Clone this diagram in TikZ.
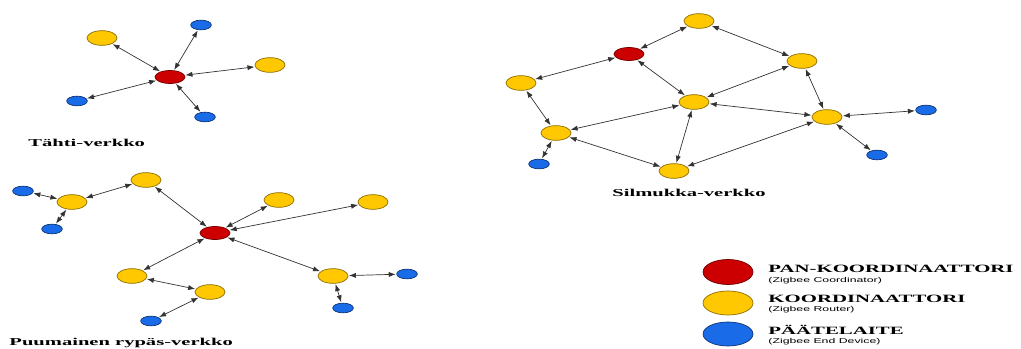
\documentclass[tikz,border=0pt]{standalone}
\usepackage{fontspec}
\setmainfont{Liberation Serif}
\setsansfont{Liberation Sans}
\usetikzlibrary{shapes.geometric,arrows.meta}
\definecolor{panred}{HTML}{CC0000}
\definecolor{routeryellow}{HTML}{FFC800}
\definecolor{enddevblue}{HTML}{1A6BE8}

\tikzset{
  pan/.style={ellipse, draw=red!45!black, fill=panred, line width=0.6pt,
    inner sep=0pt, minimum width=0.9cm, minimum height=0.39cm},
  router/.style={ellipse, draw=routeryellow!55!black, fill=routeryellow, line width=0.6pt,
    inner sep=0pt, minimum width=0.9cm, minimum height=0.44cm},
  enddev/.style={ellipse, draw=enddevblue!50!black, fill=enddevblue, line width=0.6pt,
    inner sep=0pt, minimum width=0.62cm, minimum height=0.29cm},
  link/.style={{Latex[length=6pt,width=4.4pt]}-{Latex[length=6pt,width=4.4pt]},
    draw=black!80, line width=0.6pt, shorten <=0.5pt, shorten >=0.5pt},
  netlabel/.style={anchor=west, inner sep=0pt, font=\bfseries\fontsize{9}{10}\selectfont, xscale=1.95},
  keytitle/.style={anchor=west, inner sep=0pt, font=\bfseries\fontsize{9.5}{10}\selectfont, xscale=1.87},
  keynote/.style={anchor=west, inner sep=0pt, font=\sffamily\fontsize{6}{7}\selectfont, xscale=1.75}
}

\begin{document}
\begin{tikzpicture}[x=0.03cm, y=-0.03cm]
\useasboundingbox (0,0) rectangle (1021,349);

% star
\node[pan] (s0) at (170,77) {};
\node[router] (s1) at (102,38) {};
\node[router] (s2) at (270,65) {};
\node[enddev] (s3) at (201,25) {};
\node[enddev] (s4) at (77,101) {};
\node[enddev] (s5) at (205,117) {};
\foreach \n in {s1,s2,s3,s4,s5} \draw[link] (s0) -- (\n);
\node[netlabel] (slbl) at (28,143) {Tähti-verkko};

% tree
\node[pan] (t0) at (215,233) {};
\node[router] (t1) at (146,180) {};
\node[router] (t2) at (72,202) {};
\node[enddev] (t3) at (23,191) {};
\node[enddev] (t4) at (52,229) {};
\node[router] (t5) at (279,200) {};
\node[router] (t6) at (373,202) {};
\node[router] (t7) at (132,276) {};
\node[router] (t8) at (210,292) {};
\node[enddev] (t9) at (151,321) {};
\node[router] (t10) at (333,276) {};
\node[enddev] (t11) at (407,274) {};
\node[enddev] (t12) at (343,308) {};
\foreach \n in {t1,t5,t6,t7,t10} \draw[link] (t0) -- (\n);
\draw[link] (t1) -- (t2);
\draw[link] (t2) -- (t3);
\draw[link] (t2) -- (t4);
\draw[link] (t7) -- (t8);
\draw[link] (t8) -- (t9);
\draw[link] (t10) -- (t11);
\draw[link] (t10) -- (t12);
\node[netlabel] (tlbl) at (9,343) {Puumainen rypäs-verkko};

% mesh
\node[pan] (m0) at (629,54) {};
\node[router] (m1) at (699,21) {};
\node[router] (m2) at (802,61) {};
\node[router] (m3) at (521,83) {};
\node[router] (m4) at (694,102) {};
\node[router] (m5) at (827,117) {};
\node[router] (m6) at (556,133) {};
\node[router] (m7) at (674,171) {};
\node[enddev] (m8) at (926,110) {};
\node[enddev] (m9) at (877,155) {};
\node[enddev] (m10) at (539,164) {};
\draw[link] (m1) -- (m0);
\draw[link] (m1) -- (m2);
\draw[link] (m0) -- (m3);
\draw[link] (m0) -- (m4);
\draw[link] (m2) -- (m4);
\draw[link] (m2) -- (m5);
\draw[link] (m3) -- (m6);
\draw[link] (m6) -- (m4);
\draw[link] (m4) -- (m5);
\draw[link] (m4) -- (m7);
\draw[link] (m6) -- (m7);
\draw[link] (m7) -- (m5);
\draw[link] (m5) -- (m8);
\draw[link] (m5) -- (m9);
\draw[link] (m6) -- (m10);
\node[netlabel] (mlbl) at (612,193) {Silmukka-verkko};

% legend
\node[pan, minimum width=1.5cm, minimum height=0.75cm] (k1) at (728,272) {};
\node[router, minimum width=1.5cm, minimum height=0.72cm] (k2) at (728,303) {};
\node[enddev, minimum width=1.5cm, minimum height=0.72cm] (k3) at (728,334) {};
\node[keytitle] (k1a) at (768,269) {PAN-KOORDINAATTORI};
\node[keynote] (k1b) at (768,281) {(Zigbee Coordinator)};
\node[keytitle] (k2a) at (768,299) {KOORDINAATTORI};
\node[keynote] (k2b) at (768,310) {(Zigbee Router)};
\node[keytitle] (k3a) at (768,330) {PÄÄTELAITE};
\node[keynote] (k3b) at (768,342) {(Zigbee End Device)};
\end{tikzpicture}
\end{document}
